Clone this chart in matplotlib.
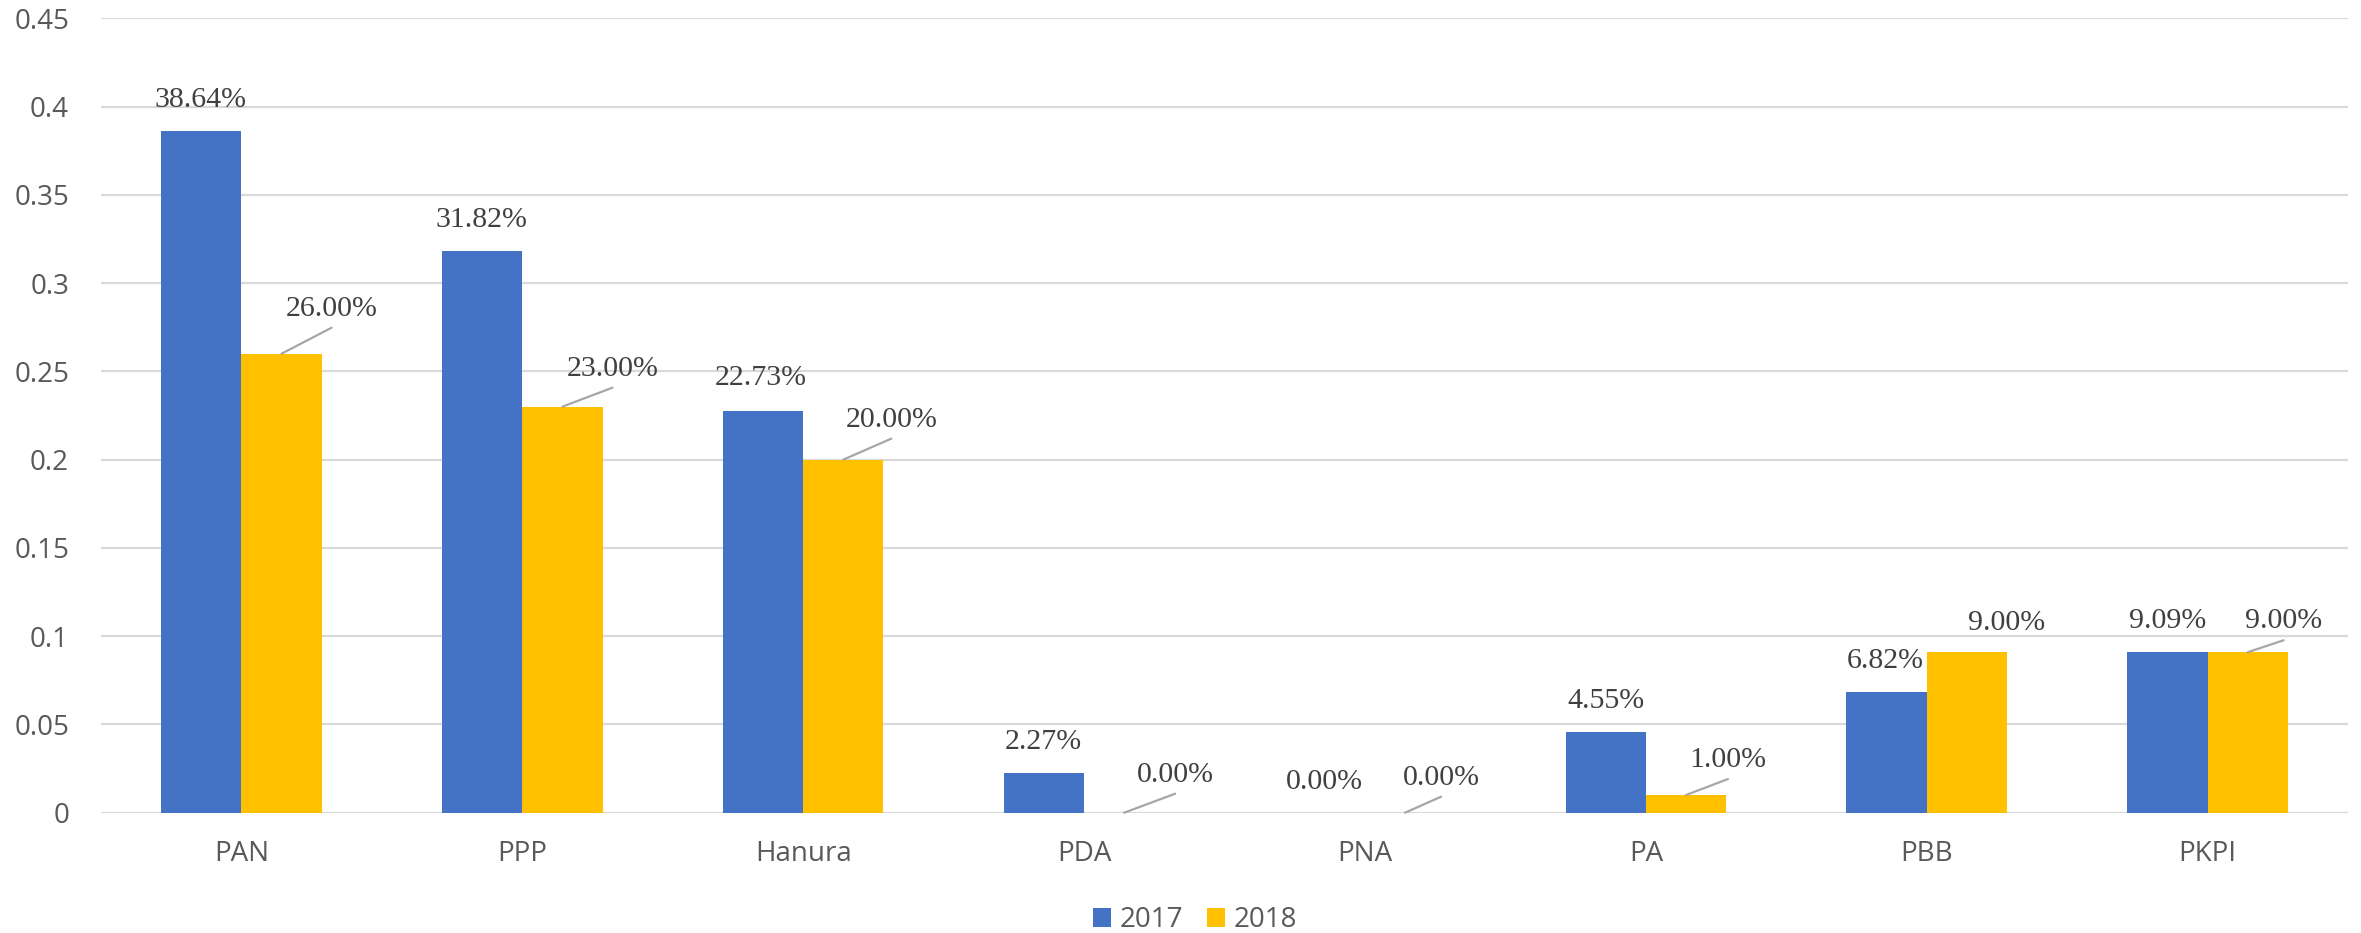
import matplotlib
matplotlib.use("Agg")
import matplotlib.pyplot as plt
import numpy as np
from matplotlib.ticker import FuncFormatter, MultipleLocator
from matplotlib.patches import Patch

# ---- data ----
categories = ["PAN", "PPP", "Hanura", "PDA", "PNA", "PA", "PBB", "PKPI"]
series_names = ["2017", "2018"]
values_2017 = [0.3864, 0.3182, 0.2273, 0.0227, 0.0, 0.0455, 0.0682, 0.0909]
values_2018 = [0.26, 0.23, 0.20, 0.0, 0.0, 0.01, 0.0909, 0.0909]
labels_2017 = ["38.64%", "31.82%", "22.73%", "2.27%", "0.00%", "4.55%", "6.82%", "9.09%"]
labels_2018 = ["26.00%", "23.00%", "20.00%", "0.00%", "0.00%", "1.00%", "9.00%", "9.00%"]

# ---- layout / style ----
DPI = 100
W, H = 2361, 933
blue = "#4472C4"
gold = "#FFC000"
grid_c = "#D9D9D9"
tick_c = "#595959"
lab_c = "#404040"
lead_c = "#A6A6A6"

# label offsets (pixels) for 2018 labels: (dx, dy of baseline), leader flag
off_2018 = [(50, 38), (50, 31), (48, 33), (51, 31), (36, 28), (42, 28), (40, 22), (36, 24)]
lead_2018 = [True, True, True, True, True, True, False, True]
off_2017 = [(-1, 24), (-1, 24), (-2, 26), (-1, 24), (0, 24), (0, 24), (-1, 24), (0, 24)]

fig = plt.figure(figsize=(W / DPI, H / DPI), dpi=DPI)
ax = fig.add_axes([101 / W, 1 - 812.7 / H, (2348 - 101) / W, (812.7 - 18.3) / H])

x = np.arange(len(categories))
bw = 1 / 3.5
b1 = ax.bar(x - bw / 2, values_2017, bw, color=blue, zorder=3, label=series_names[0])
b2 = ax.bar(x + bw / 2, values_2018, bw, color=gold, zorder=3, label=series_names[1])

ax.set_xlim(-0.5, len(categories) - 0.5)
ax.set_ylim(0, 0.45)
ax.yaxis.set_major_locator(MultipleLocator(0.05))
ax.yaxis.set_major_formatter(FuncFormatter(lambda v, p: f"{round(v, 2):g}"))
ax.set_xticks(x)
ax.set_xticklabels(categories)

for s in ax.spines.values():
    s.set_visible(False)
ax.grid(axis="y", color=grid_c, linewidth=1.6, zorder=0)
ax.set_axisbelow(True)
ax.tick_params(axis="both", length=0, colors=tick_c, labelsize=20)
ax.tick_params(axis="y", pad=23)
ax.tick_params(axis="x", pad=20)
for t in ax.get_xticklabels() + ax.get_yticklabels():
    t.set_fontfamily("Open Sans")

lab_font = dict(fontfamily="Liberation Serif", fontsize=21.5, color=lab_c)

for i in range(len(categories)):
    xa = x[i] - bw / 2
    dx, dy = off_2017[i]
    ax.annotate(labels_2017[i], xy=(xa, values_2017[i]), xytext=(dx, dy),
                textcoords="offset pixels", ha="center", va="baseline",
                zorder=5, **lab_font)
    xb = x[i] + bw / 2
    dx, dy = off_2018[i]
    ax.annotate(labels_2018[i], xy=(xb, values_2018[i]), xytext=(dx, dy),
                textcoords="offset pixels", ha="center", va="baseline",
                zorder=5, **lab_font)
    if lead_2018[i]:
        ax.annotate("", xy=(xb, values_2018[i]), xytext=(dx, dy - 12),
                    textcoords="offset pixels",
                    arrowprops=dict(arrowstyle="-", color=lead_c, lw=1.6,
                                    shrinkA=0, shrinkB=0), zorder=4)

handles = [Patch(facecolor=blue), Patch(facecolor=gold)]
fig.legend(handles, series_names, loc="center", bbox_to_anchor=(1195 / W, 1 - 920 / H),
           ncol=2, frameon=False, handlelength=0.65, handleheight=0.65,
           handletextpad=0.3, columnspacing=0.85,
           prop=dict(family="Open Sans", size=20), labelcolor=tick_c)

fig.savefig("out.png", dpi=DPI)
